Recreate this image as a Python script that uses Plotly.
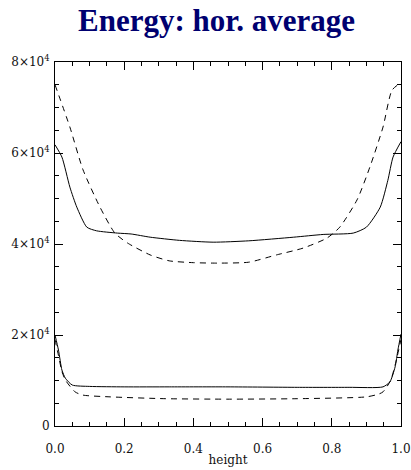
import plotly.graph_objects as go

# Horizontally averaged energy profiles versus height
upper_solid_x = [0.0, 0.02, 0.043, 0.063, 0.092, 0.12, 0.18, 0.22, 0.275, 0.36, 0.457,
                 0.56, 0.69, 0.775, 0.862, 0.9, 0.94, 0.962, 0.977, 1.0]
upper_solid_y = [61800, 59100, 52500, 48100, 43700, 42900, 42400, 42200, 41500, 40800, 40400,
                 40700, 41500, 42100, 42400, 43700, 48100, 54000, 59100, 62500]

upper_dashed_x = [0.0, 0.043, 0.081, 0.13, 0.173, 0.21, 0.275, 0.33, 0.40, 0.468, 0.56,
                  0.64, 0.717, 0.786, 0.823, 0.873, 0.91, 0.948, 0.974, 1.0]
upper_dashed_y = [75000, 65700, 56300, 48100, 42400, 40200, 37600, 36300, 35900, 35800, 36000,
                  37600, 39100, 41300, 43700, 49700, 56900, 65700, 73800, 75500]

lower_solid_x = [0.0, 0.01, 0.02, 0.03, 0.05, 0.1, 0.2, 0.33, 0.5, 0.7, 0.85,
                 0.948, 0.968, 0.983, 0.991, 1.0]
lower_solid_y = [20000, 16700, 12300, 10500, 9000, 8700, 8600, 8600, 8600, 8500, 8500,
                 8600, 9700, 13000, 16700, 20200]

lower_dashed_x = [0.0, 0.01, 0.02, 0.03, 0.058, 0.08, 0.16, 0.32, 0.5, 0.7, 0.9,
                  0.935, 0.948, 0.97, 0.985, 1.0]
lower_dashed_y = [19000, 15500, 12000, 10100, 7500, 6800, 6400, 6000, 5900, 6000, 6400,
                  7000, 7500, 10000, 14000, 19000]

x_tick_vals = [0.0, 0.2, 0.4, 0.6, 0.8, 1.0]
x_tick_text = ["0.0", "0.2", "0.4", "0.6", "0.8", "1.0"]
y_tick_vals = [0, 20000, 40000, 60000, 80000]
y_tick_text = ["0", "2×10<sup>4</sup>", "4×10<sup>4</sup>", "6×10<sup>4</sup>", "8×10<sup>4</sup>"]

fig = go.Figure()
solid = dict(color="black", width=1)
dashed = dict(color="black", width=1, dash="6px,5px")
for xs, ys, ln in [(upper_solid_x, upper_solid_y, solid),
                   (upper_dashed_x, upper_dashed_y, dashed),
                   (lower_solid_x, lower_solid_y, solid),
                   (lower_dashed_x, lower_dashed_y, dashed)]:
    fig.add_trace(go.Scatter(x=xs, y=ys, mode="lines", line=dict(shape="spline", smoothing=0.6, **ln),
                             showlegend=False, hoverinfo="skip"))

tick_font = dict(family="DejaVu Serif", size=12, color="#111111")
axis_common = dict(showgrid=False, zeroline=False, showline=True, linecolor="black", linewidth=1,
                   mirror="allticks", ticks="inside", ticklen=8, tickwidth=1, tickcolor="black",
                   tickfont=tick_font, automargin=False)

fig.update_xaxes(range=[0, 1], tickvals=x_tick_vals, ticktext=x_tick_text, ticklabelstandoff=12,
                 minor=dict(dtick=0.05, ticks="inside", ticklen=4, tickcolor="black", tickwidth=1),
                 title=dict(text="height", font=tick_font, standoff=0), **axis_common)
fig.update_yaxes(range=[0, 80000], tickvals=y_tick_vals, ticktext=y_tick_text, ticklabelstandoff=2,
                 minor=dict(dtick=5000, ticks="inside", ticklen=4, tickcolor="black", tickwidth=1),
                 **axis_common)

fig.update_layout(
    width=411, height=470,
    margin=dict(l=55, r=10, t=62, b=44),
    paper_bgcolor="white", plot_bgcolor="white",
    title=dict(text="<b>Energy: hor. average</b>", x=0.527, xanchor="center", y=0.957, yanchor="middle",
               font=dict(family="Liberation Serif", size=31, color="#000070")),
)

fig.write_html("out.html")
